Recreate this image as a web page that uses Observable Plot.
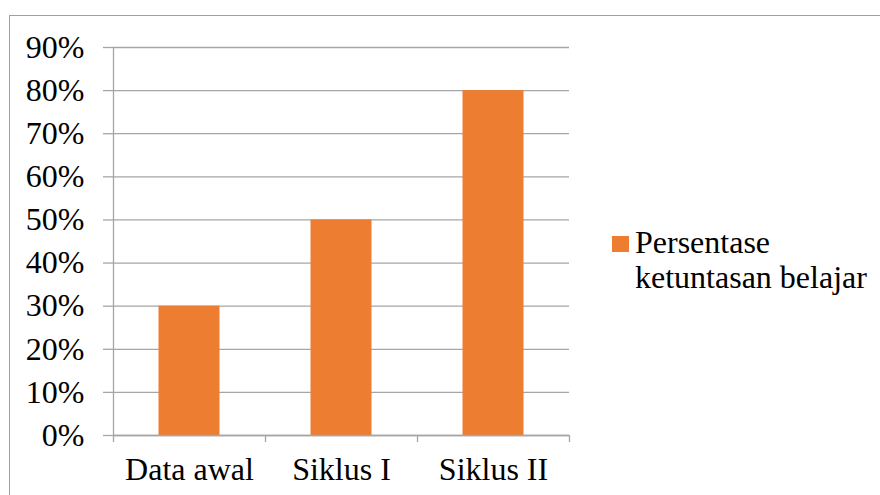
<!DOCTYPE html>
<html>
<head>
<meta charset="utf-8">
<script src="https://cdn.jsdelivr.net/npm/d3@7"></script>
<script src="https://cdn.jsdelivr.net/npm/@observablehq/plot@0.6"></script>
<style>
  html, body { margin: 0; padding: 0; background: #fff; font-family: 'Liberation Serif', serif; }
  #wrap { position: relative; width: 880px; height: 495px; overflow: hidden; font-family: 'Liberation Serif', serif; }
  #frame { position: absolute; left: 9px; top: 15px; width: 900px; height: 520px; border: 1px solid #a0a0a0; box-sizing: border-box; }
  #chart { position: absolute; left: 0; top: 0; }
  #sw { position: absolute; left: 612px; top: 236px; width: 17px; height: 16px; background: #ED7D31; }
  #ltext { position: absolute; left: 635px; top: 225px; font-family: 'Liberation Serif', serif; font-size: 32px; line-height: 35px; color: #000; white-space: nowrap; }
</style>
</head>
<body>
<div id="wrap">
  <div id="frame"></div>
  <div id="chart"></div>
  <div id="sw"></div>
  <div id="ltext"></div>
</div>
<script>
const categories = ["Data awal", "Siklus I", "Siklus II"];
const values = [0.30, 0.50, 0.80];
const yTicks = [0, 0.1, 0.2, 0.3, 0.4, 0.5, 0.6, 0.7, 0.8, 0.9];
const seriesName = ["Persentase", "ketuntasan belajar"];

const data = categories.map((c, i) => ({i, c, v: values[i]}));
const orange = "#ED7D31";
const grid = "#a6a6a6";
const FONT = "'Liberation Serif', serif";

const plot = Plot.plot({
  width: 880,
  height: 495,
  marginLeft: 113,
  marginRight: 311,
  marginTop: 47,
  marginBottom: 60,
  style: {fontFamily: FONT, fontSize: "32px", color: "#000", background: "transparent"},
  x: {domain: [0, categories.length], axis: null, label: null},
  y: {domain: [0, 0.9], axis: null, label: null},
  marks: [
    Plot.ruleY(yTicks, {x1: 0, x2: categories.length, stroke: grid, strokeWidth: 1.3}),
    Plot.axisY({ticks: yTicks, label: null, tickFormat: d3.format(".0%"), tickSize: 10, tickPadding: 19, stroke: grid, strokeOpacity: 1, strokeWidth: 1.3, fontSize: 32, fontFamily: FONT, fill: "#000"}),
    Plot.rectY(data, {x1: d => d.i, x2: d => d.i + 1, y: "v", fill: orange, insetLeft: 45.5, insetRight: 45.5}),
    Plot.ruleX([0], {stroke: grid, strokeWidth: 1.3}),
    Plot.ruleY([0], {x1: 0, x2: categories.length, stroke: grid, strokeWidth: 1.3}),
    Plot.axisX({ticks: d3.range(categories.length + 1), label: null, tickFormat: () => "", tickSize: 7, stroke: grid, strokeOpacity: 1, strokeWidth: 1.3}),
    Plot.axisX({ticks: categories.map((c, i) => i + 0.5), label: null, tickFormat: t => categories[Math.floor(t)], tickSize: 0, tickPadding: 22, fontSize: 32, fontFamily: FONT, fill: "#000"})
  ]
});
document.getElementById("chart").appendChild(plot);

document.getElementById("ltext").innerHTML = seriesName.join("<br>");
</script>
</body>
</html>
